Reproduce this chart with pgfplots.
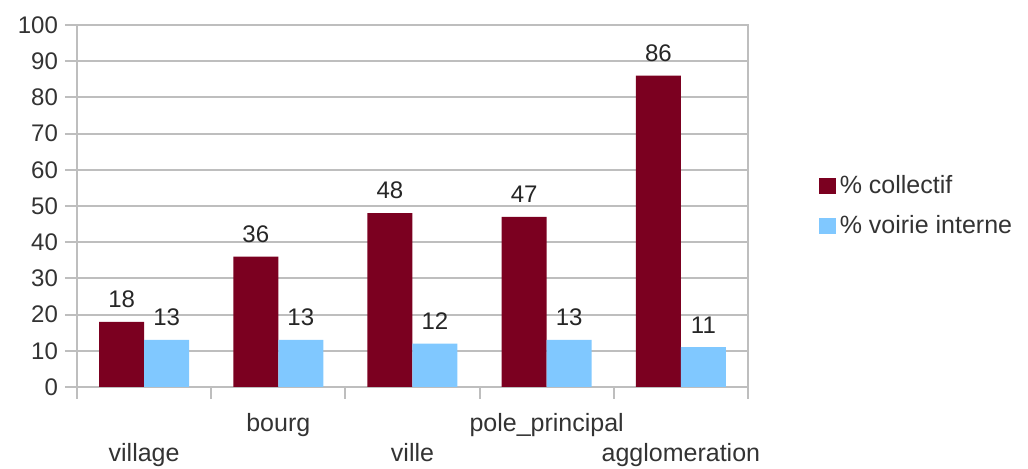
\documentclass[border=0pt]{standalone}
\usepackage{fontspec}
\setmainfont{Liberation Sans}
\usepackage{pgfplots}
\pgfplotsset{compat=1.18}
\definecolor{darkred}{RGB}{123,0,32}
\definecolor{lightblue}{RGB}{128,200,255}
\definecolor{gridgray}{RGB}{190,190,190}
\begin{document}
\begin{tikzpicture}
\useasboundingbox (-38.5pt,-41pt) rectangle (475.5pt,193.5pt);
\begin{axis}[
  scale only axis,
  width=335.5pt, height=181pt,
  at={(0,0)}, anchor=south west,
  ymin=0, ymax=100, ytick={0,10,...,100},
  xmin=-0.5, xmax=4.5,
  ybar=0pt, bar width=22.5pt,
  xtick pos=bottom, ytick pos=left,
  xtick={-0.5,0.5,1.5,2.5,3.5,4.5}, xticklabels={},
  extra x ticks={0,1,2,3,4},
  extra x tick labels={{\strut\\village},{\strut bourg},{\strut\\ville},{\strut pole\_principal},{\strut\\agglomeration}},
  extra x tick style={tick style={draw=none}, grid=none},
  xticklabel style={align=center, font=\fontsize{12.5}{15}\selectfont, text=black!80, yshift=-2pt},
  yticklabel style={font=\fontsize{12}{14}\selectfont, text=black!80},
  /pgf/number format/assume math mode=true,
  tick align=outside, major tick length=6pt,
  ymajorgrids, xmajorgrids=false,
  grid style={gridgray, line width=1pt},
  axis line style={gridgray, line width=1pt},
  tick style={gridgray, line width=1pt},
  nodes near coords,
  every node near coord/.append style={font=\fontsize{12}{14}\selectfont, text=black!85, yshift=3.5pt},
  legend style={at={(rel axis cs:1.096,0.5)}, anchor=west, draw=none, fill=none,
    row sep=5pt, font=\fontsize{12.5}{14}\selectfont, text=black!80},
  legend cell align=left,
  legend image code/.code={\fill[#1] (0pt,-4pt) rectangle (8.5pt,4pt);},
]
\addplot[fill=darkred, draw=none] coordinates {(0,18) (1,36) (2,48) (3,47) (4,86)};
\addplot[fill=lightblue, draw=none] coordinates {(0,13) (1,13) (2,12) (3,13) (4,11)};
\legend{\% collectif, \% voirie interne}
\end{axis}
\end{tikzpicture}
\end{document}
